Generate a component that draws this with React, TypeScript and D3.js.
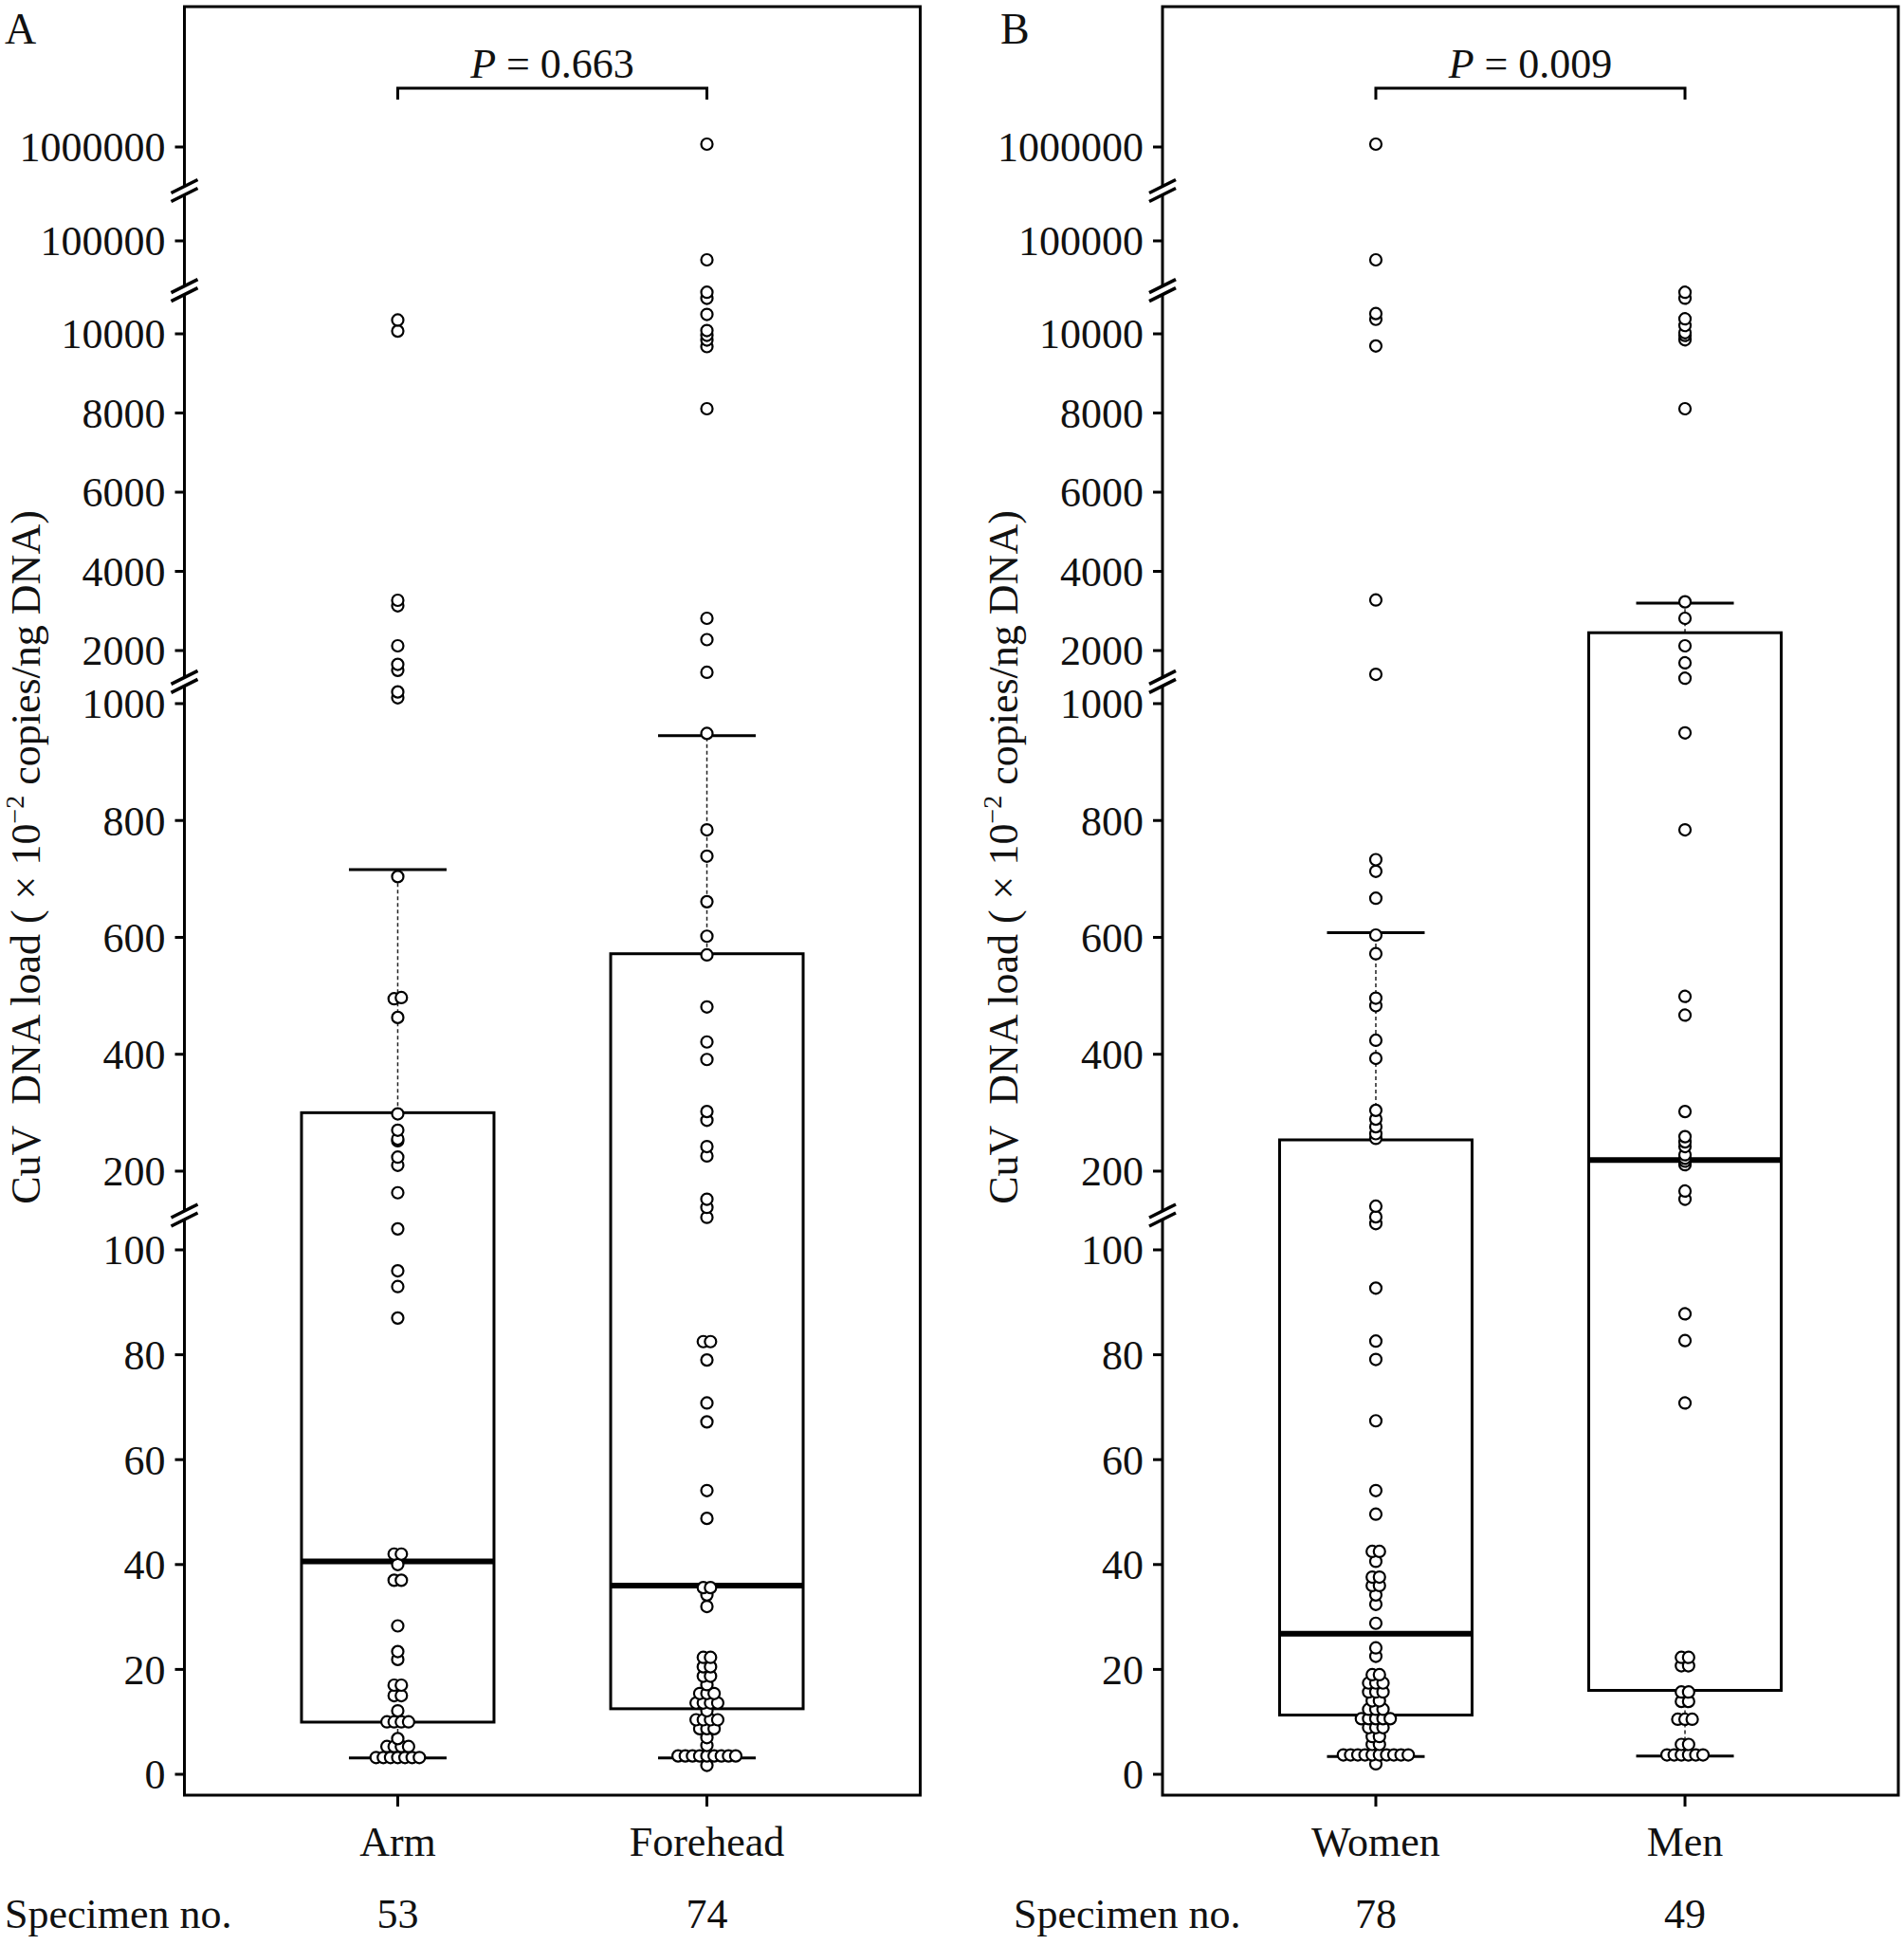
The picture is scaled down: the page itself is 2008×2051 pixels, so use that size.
import React from 'react';
import * as d3 from 'd3';

// ---- data ----
const panelACategories = ['Arm', 'Forehead'];
const panelBCategories = ['Women', 'Men'];
const panelACounts = ['53', '74'];
const panelBCounts = ['78', '49'];

const armValues = [
  10350, 10070, 3270, 3130, 2120, 1650, 1500, 1020, 1010,
  704, 497, 495, 463, 298, 270, 255, 252, 224, 210, 163,
  104, 96, 93, 87,
  42, 42, 40, 37, 37, 28.3, 23.4, 21.9, 17, 17, 15, 15, 12.1,
  10, 10, 10, 10, 6.8, 5.3, 5.3, 5.3, 5.3,
  3.2, 3.2, 3.2, 3.2, 3.2, 3.2, 3.2,
];
const foreheadValues = [
  1030000, 68000, 11066, 10898, 10491, 10084, 9964, 9844, 9677, 8108, 2814, 2275, 1450,
  949, 784, 739, 661, 602, 570, 481, 421, 391, 302, 287, 242, 226, 152, 138, 110,
  82.5, 82.5, 79, 70.8, 67.2, 54.1,
  48.8, 35.6, 35.6, 34.2, 32, 22.3, 22.3, 20.5, 20.5, 18.7, 18.7, 17.1,
  15.4, 15.4, 15.4, 13.6, 13.6, 13.6, 13.6, 12.1, 10.4, 10.4, 10.4, 10.4,
  8.7, 8.7, 8.7, 7.0, 5.5,
  3.5, 3.5, 3.5, 3.5, 3.5, 3.5, 3.5, 3.5, 3.5, 1.7,
];
const womenValues = [
  1030000, 68000, 10512, 10366, 9693, 3277, 1400,
  733, 713, 667, 604, 572, 496, 483, 424, 393, 304, 289, 276, 264, 256, 140,
  112, 105, 92.7, 82.6, 79.1, 67.4, 54.1, 49.6,
  42.5, 42.5, 40.6, 37.6, 37.6, 36, 36, 34.2, 32.4, 28.8, 24.1, 22.5,
  19, 19, 17.4, 17.4, 17.4, 15.7, 15.7, 15.7, 14, 14, 12.4, 12.4, 12.4,
  10.6, 10.6, 10.6, 10.6, 10.6, 8.9, 8.9, 8.9, 7.2, 7.2, 5.7, 5.7,
  3.7, 3.7, 3.7, 3.7, 3.7, 3.7, 3.7, 3.7, 3.7, 3.7, 2.0,
];
const menValues = [
  11060, 10900, 10380, 10210, 10030, 9960, 9850, 8108, 3230, 2814, 2120, 1689, 1300,
  950, 784, 499, 467, 302, 259, 250, 242, 228, 222, 217, 211, 166, 152,
  87.8, 82.7, 70.8,
  22.3, 22.3, 20.7, 20.7, 15.7, 15.7, 13.9, 13.9, 10.5, 10.5, 10.5, 5.7, 5.7,
  3.7, 3.7, 3.7, 3.7, 3.7, 3.7,
];

// box statistics as drawn (Arm, Forehead, Women, Men)
const q1 = [9.95, 12.5, 11.3, 16.0];
const medians = [40.6, 36.0, 26.8, 219];
const q3 = [300, 572, 253.5, 2450];
const whiskerLow = [3.1, 3.1, 3.4, 3.5];
const whiskerHigh = [716, 945, 608, 3197];

const pLabels = ['0.663', '0.009'];
const yTickValues = [0, 20, 40, 60, 80, 100, 200, 400, 600, 800, 1000, 2000, 4000, 6000, 8000, 10000, 100000, 1000000];

// ---- broken y axis: value anchors and where they sit on the page ----
const yAnchorValues = [0, 106, 130, 1035, 1250, 11050, 20000, 180000, 570000, 1050000];
const yAnchorPixels = [1871, 1284.8, 1278.1, 720.4, 717.3, 308.2, 304, 204, 198, 150];
const yBreaks = [[106, 130], [1035, 1250], [11050, 20000], [180000, 570000]];

const FONT = '"Liberation Serif", "Times New Roman", Times, serif';
const FS = 44;
const W = 2008, H = 2051;
const frame = { left: 194.5, right: 970.5, top: 7, bottom: 1893 };
const shiftB = 1031.5;

const y = d3.scaleLinear().domain(yAnchorValues).range(yAnchorPixels);

function swarm(values: number[], cx: number, step: number) {
  const pts = values.map(v => ({ v, py: y(v) })).sort((a, b) => b.py - a.py);
  const rows: { v: number; py: number }[][] = [];
  for (const p of pts) {
    const last = rows[rows.length - 1];
    if (last && Math.abs(last[0].py - p.py) < 1.5) last.push(p);
    else rows.push([p]);
  }
  return rows.flatMap(r => r.map((p, i) => ({ ...p, px: cx + (i - (r.length - 1) / 2) * step })));
}

function Panel({ dx, cats, groups, statIdx, counts, pText, letter, letterX, specX, yLabelX }: any) {
  const left = frame.left + dx, right = frame.right + dx;
  const x = d3.scalePoint<string>().domain(cats).range([left, right]).padding(0.69);
  const boxHalf = 101.5, capHalf = 51.5;
  const x1 = x(cats[0])!, x2 = x(cats[1])!;

  return (
    <g>
      <text x={letterX} y={46} fontSize={46} fontFamily={FONT} fill="#111">{letter}</text>
      {/* y axis label */}
      <text transform={`translate(${yLabelX},904) rotate(-90)`} textAnchor="middle" fontSize={44} fontFamily={FONT} fill="#111">
        CuV{'\u00a0\u00a0'}DNA load ( × 10<tspan fontSize={28} dy={-17}>−2</tspan><tspan dy={17}> copies/ng DNA)</tspan>
      </text>
      {/* frame */}
      <rect x={left} y={frame.top} width={right - left} height={frame.bottom - frame.top} fill="none" stroke="#000" strokeWidth={3} />
      {/* y ticks */}
      {yTickValues.map(t => (
        <g key={t}>
          <line x1={left - 10} x2={left} y1={y(t)} y2={y(t)} stroke="#000" strokeWidth={3} />
          <text x={left - 20} y={y(t)} dy="0.35em" textAnchor="end" fontSize={FS} fontFamily={FONT} fill="#111">{t}</text>
        </g>
      ))}
      {/* axis breaks */}
      {yBreaks.map(([a, b], i) => {
        const yb = (y(a) + y(b)) / 2;
        const s = 14, rise = 7, gap = 4.5;
        return (
          <g key={i}>
            <polygon points={`${left - s},${yb + rise - gap} ${left + s},${yb - rise - gap} ${left + s},${yb - rise + gap} ${left - s},${yb + rise + gap}`} fill="#fff" />
            <line x1={left - s} x2={left + s} y1={yb + rise - gap} y2={yb - rise - gap} stroke="#000" strokeWidth={3.5} />
            <line x1={left - s} x2={left + s} y1={yb + rise + gap} y2={yb - rise + gap} stroke="#000" strokeWidth={3.5} />
          </g>
        );
      })}
      {/* x ticks and labels */}
      {cats.map((c: string, i: number) => (
        <g key={c}>
          <line x1={x(c)} x2={x(c)} y1={frame.bottom} y2={frame.bottom + 12} stroke="#000" strokeWidth={3} />
          <text x={x(c)} y={1957} textAnchor="middle" fontSize={FS} fontFamily={FONT} fill="#111">{c}</text>
          <text x={x(c)} y={2033} textAnchor="middle" fontSize={FS} fontFamily={FONT} fill="#111">{counts[i]}</text>
        </g>
      ))}
      <text x={specX} y={2033} fontSize={FS} fontFamily={FONT} fill="#111">Specimen no.</text>
      {/* significance bracket */}
      <path d={`M${x1},105 V93 H${x2} V105`} fill="none" stroke="#000" strokeWidth={3} />
      <text x={(x1 + x2) / 2} y={82} textAnchor="middle" fontSize={FS} fontFamily={FONT} fill="#111">
        <tspan fontStyle="italic">P</tspan> = {pText}
      </text>
      {/* boxes */}
      {cats.map((c: string, i: number) => {
        const k = statIdx + i;
        const cx = x(c)!;
        return (
          <g key={'b' + c}>
            <line x1={cx} x2={cx} y1={y(q3[k])} y2={y(whiskerHigh[k])} stroke="#222" strokeWidth={1.5} strokeDasharray="4,3" />
            <line x1={cx} x2={cx} y1={y(q1[k])} y2={y(whiskerLow[k])} stroke="#222" strokeWidth={1.5} strokeDasharray="4,3" />
            <line x1={cx - capHalf} x2={cx + capHalf} y1={y(whiskerHigh[k])} y2={y(whiskerHigh[k])} stroke="#000" strokeWidth={3} />
            <line x1={cx - capHalf} x2={cx + capHalf} y1={y(whiskerLow[k])} y2={y(whiskerLow[k])} stroke="#000" strokeWidth={3} />
            <rect x={cx - boxHalf} y={y(q3[k])} width={boxHalf * 2} height={y(q1[k]) - y(q3[k])} fill="none" stroke="#000" strokeWidth={3} />
            <line x1={cx - boxHalf} x2={cx + boxHalf} y1={y(medians[k])} y2={y(medians[k])} stroke="#000" strokeWidth={6} />
          </g>
        );
      })}
      {/* points */}
      {cats.map((c: string, i: number) => (
        <g key={'p' + c}>
          {swarm(groups[i], x(c)!, 7.6).map((p, j) => (
            <circle key={j} cx={p.px} cy={p.py} r={6} fill="#fff" stroke="#000" strokeWidth={2.2} />
          ))}
        </g>
      ))}
    </g>
  );
}

export default function App() {
  return (
    <svg width={W} height={H} style={{ position: 'absolute', left: 0, top: 0, background: '#fff' }}>
      <rect width={W} height={H} fill="#fff" />
      <Panel dx={0} cats={panelACategories} groups={[armValues, foreheadValues]} statIdx={0}
        counts={panelACounts} pText={pLabels[0]} letter="A" letterX={5} specX={5} yLabelX={42} />
      <Panel dx={shiftB} cats={panelBCategories} groups={[womenValues, menValues]} statIdx={2}
        counts={panelBCounts} pText={pLabels[1]} letter="B" letterX={1055} specX={1069} yLabelX={1073} />
    </svg>
  );
}
